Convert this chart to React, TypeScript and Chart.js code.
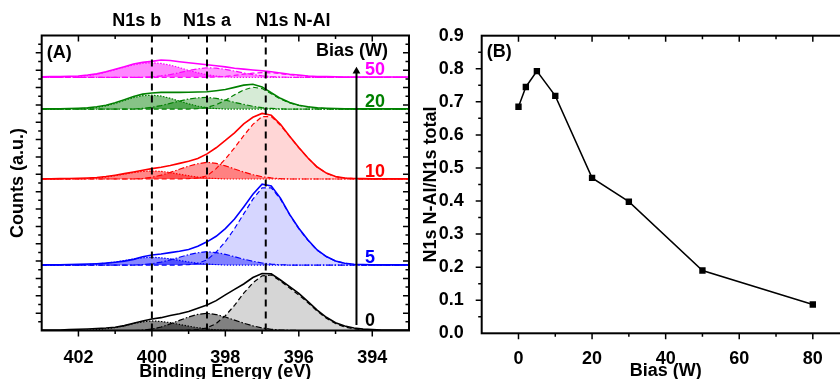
import React, { useEffect, useRef } from 'react';
import { Chart, registerables } from 'chart.js';

Chart.register(...registerables);

const FONT = '"Liberation Sans", Arial, Helvetica, sans-serif';

// ---------- Panel A data ----------
const energies = [403, 402.75, 402.5, 402.25, 402, 401.75, 401.5, 401.25, 401, 400.75, 400.5, 400.25, 400, 399.75, 399.5, 399.25, 399, 398.75, 398.5, 398.25, 398, 397.75, 397.5, 397.25, 397, 396.75, 396.5, 396.25, 396, 395.75, 395.5, 395.25, 395, 394.75, 394.5, 394.25, 394, 393.75, 393.5, 393.25, 393];

const biasLabels = ['0', '5', '10', '20', '50'];
const spectrumOffsets = [0, 3.77, 8.73, 12.76, 14.59];
const spectrumColors = ['0,0,0', '0,0,255', '255,0,0', '0,128,0', '255,0,255'];

// 0 W
const env0 = [0.02, 0.02, 0.03, 0.05, 0.07, 0.09, 0.11, 0.14, 0.19, 0.28, 0.42, 0.55, 0.66, 0.74, 0.86, 0.97, 1.10, 1.28, 1.47, 1.72, 2.05, 2.37, 2.68, 3.05, 3.28, 3.27, 2.91, 2.53, 2.14, 1.66, 1.18, 0.76, 0.45, 0.26, 0.14, 0.08, 0.05, 0.03, 0.02, 0.02, 0.02];
const nal0 = [0, 0, 0, 0, 0, 0, 0, 0, 0, 0, 0, 0, 0, 0, 0, 0, 0.02, 0.05, 0.15, 0.40, 0.85, 1.45, 2.15, 2.75, 3.15, 3.20, 2.85, 2.45, 2.05, 1.60, 1.12, 0.70, 0.40, 0.20, 0.10, 0.05, 0.02, 0, 0, 0, 0];
const a0 = [0, 0, 0, 0, 0, 0, 0, 0, 0, 0, 0, 0.02, 0.08, 0.20, 0.38, 0.58, 0.78, 0.93, 0.99, 0.92, 0.78, 0.60, 0.42, 0.27, 0.15, 0.07, 0.03, 0.01, 0, 0, 0, 0, 0, 0, 0, 0, 0, 0, 0, 0, 0];
const b0 = [0, 0, 0, 0, 0, 0.02, 0.05, 0.10, 0.17, 0.27, 0.40, 0.50, 0.55, 0.52, 0.45, 0.35, 0.25, 0.16, 0.09, 0.04, 0.02, 0, 0, 0, 0, 0, 0, 0, 0, 0, 0, 0, 0, 0, 0, 0, 0, 0, 0, 0, 0];

// 5 W
const env5 = [0.01, 0.01, 0.02, 0.03, 0.04, 0.06, 0.08, 0.11, 0.16, 0.23, 0.33, 0.48, 0.58, 0.64, 0.72, 0.80, 0.90, 1.08, 1.34, 1.66, 2.10, 2.65, 3.35, 4.08, 4.66, 4.56, 3.86, 2.92, 2.12, 1.44, 0.87, 0.49, 0.24, 0.11, 0.05, 0.03, 0.02, 0.01, 0.01, 0.01, 0.01];
const nal5 = [0, 0, 0, 0, 0, 0, 0, 0, 0, 0, 0, 0, 0, 0, 0, 0, 0.03, 0.10, 0.30, 0.75, 1.35, 2.10, 2.95, 3.80, 4.45, 4.45, 3.80, 2.90, 2.10, 1.42, 0.85, 0.48, 0.23, 0.10, 0.04, 0, 0, 0, 0, 0, 0];
const a5 = [0, 0, 0, 0, 0, 0, 0, 0, 0, 0, 0, 0.03, 0.08, 0.17, 0.30, 0.45, 0.60, 0.71, 0.77, 0.72, 0.62, 0.48, 0.34, 0.22, 0.12, 0.05, 0.02, 0, 0, 0, 0, 0, 0, 0, 0, 0, 0, 0, 0, 0, 0];
const b5 = [0, 0, 0, 0, 0, 0.03, 0.06, 0.11, 0.18, 0.26, 0.35, 0.42, 0.45, 0.42, 0.36, 0.27, 0.18, 0.11, 0.06, 0.03, 0, 0, 0, 0, 0, 0, 0, 0, 0, 0, 0, 0, 0, 0, 0, 0, 0, 0, 0, 0, 0];

// 10 W
const env10 = [0.01, 0.01, 0.02, 0.03, 0.04, 0.06, 0.09, 0.14, 0.22, 0.31, 0.40, 0.50, 0.60, 0.68, 0.78, 0.90, 1.02, 1.18, 1.45, 1.80, 2.22, 2.66, 3.18, 3.56, 3.78, 3.68, 3.15, 2.47, 1.82, 1.21, 0.69, 0.34, 0.14, 0.06, 0.03, 0.02, 0.01, 0.01, 0.01, 0.01, 0.01];
const nal10 = [0, 0, 0, 0, 0, 0, 0, 0, 0, 0, 0, 0, 0, 0, 0, 0, 0.02, 0.06, 0.18, 0.60, 1.15, 1.80, 2.50, 3.15, 3.60, 3.60, 3.10, 2.45, 1.80, 1.20, 0.68, 0.33, 0.13, 0.05, 0.02, 0, 0, 0, 0, 0, 0];
const a10 = [0, 0, 0, 0, 0, 0, 0, 0, 0, 0, 0, 0.03, 0.10, 0.22, 0.38, 0.56, 0.74, 0.88, 0.96, 0.90, 0.76, 0.58, 0.40, 0.25, 0.13, 0.06, 0.02, 0, 0, 0, 0, 0, 0, 0, 0, 0, 0, 0, 0, 0, 0];
const b10 = [0, 0, 0, 0, 0, 0.03, 0.06, 0.11, 0.19, 0.28, 0.37, 0.44, 0.46, 0.44, 0.37, 0.28, 0.19, 0.11, 0.06, 0.03, 0, 0, 0, 0, 0, 0, 0, 0, 0, 0, 0, 0, 0, 0, 0, 0, 0, 0, 0, 0, 0];

// 20 W
const env20 = [0.01, 0.01, 0.02, 0.03, 0.05, 0.08, 0.13, 0.22, 0.36, 0.54, 0.72, 0.86, 0.93, 0.96, 0.96, 0.96, 0.97, 0.98, 1.00, 1.06, 1.13, 1.25, 1.38, 1.43, 1.28, 0.94, 0.62, 0.38, 0.22, 0.13, 0.08, 0.05, 0.03, 0.02, 0.01, 0.01, 0.01, 0.01, 0.01, 0.01, 0.01];
const nal20 = [0, 0, 0, 0, 0, 0, 0, 0, 0, 0, 0, 0, 0, 0, 0, 0, 0, 0.03, 0.10, 0.25, 0.50, 0.82, 1.10, 1.26, 1.18, 0.88, 0.58, 0.36, 0.21, 0.12, 0.06, 0.03, 0.01, 0, 0, 0, 0, 0, 0, 0, 0];
const a20 = [0, 0, 0, 0, 0, 0, 0, 0, 0, 0, 0, 0.04, 0.10, 0.20, 0.33, 0.46, 0.58, 0.65, 0.67, 0.62, 0.52, 0.39, 0.27, 0.16, 0.08, 0.04, 0.01, 0, 0, 0, 0, 0, 0, 0, 0, 0, 0, 0, 0, 0, 0];
const b20 = [0, 0, 0, 0, 0.02, 0.04, 0.09, 0.18, 0.32, 0.50, 0.66, 0.77, 0.80, 0.75, 0.62, 0.46, 0.30, 0.17, 0.08, 0.03, 0, 0, 0, 0, 0, 0, 0, 0, 0, 0, 0, 0, 0, 0, 0, 0, 0, 0, 0, 0, 0];

// 50 W
const env50 = [0.03, 0.04, 0.05, 0.06, 0.08, 0.13, 0.20, 0.32, 0.46, 0.61, 0.77, 0.86, 0.92, 1.00, 0.97, 0.90, 0.84, 0.78, 0.72, 0.67, 0.60, 0.52, 0.47, 0.42, 0.38, 0.32, 0.25, 0.18, 0.13, 0.08, 0.05, 0.04, 0.03, 0.02, 0.02, 0.02, 0.02, 0.02, 0.02, 0.02, 0.02];
const nal50 = [0, 0, 0, 0, 0, 0, 0, 0, 0, 0, 0, 0, 0, 0, 0, 0, 0, 0, 0, 0.02, 0.05, 0.11, 0.18, 0.24, 0.27, 0.26, 0.21, 0.15, 0.09, 0.05, 0.02, 0, 0, 0, 0, 0, 0, 0, 0, 0, 0];
const a50 = [0, 0, 0, 0, 0, 0, 0, 0, 0, 0, 0, 0, 0.03, 0.08, 0.16, 0.27, 0.39, 0.49, 0.55, 0.53, 0.46, 0.36, 0.25, 0.16, 0.09, 0.04, 0.02, 0, 0, 0, 0, 0, 0, 0, 0, 0, 0, 0, 0, 0, 0];
const b50 = [0, 0, 0, 0.02, 0.05, 0.10, 0.18, 0.30, 0.44, 0.59, 0.72, 0.81, 0.84, 0.80, 0.70, 0.56, 0.40, 0.26, 0.15, 0.07, 0.03, 0, 0, 0, 0, 0, 0, 0, 0, 0, 0, 0, 0, 0, 0, 0, 0, 0, 0, 0, 0];

const envelopes = [env0, env5, env10, env20, env50];
const nalComponents = [nal0, nal5, nal10, nal20, nal50];
const aComponents = [a0, a5, a10, a20, a50];
const bComponents = [b0, b5, b10, b20, b50];

const peakCenters = [400.0, 398.5, 396.9];
const peakNames = ['N1s b', 'N1s a', 'N1s N-Al'];
const peakNameCenters = [400.41, 398.5, 396.16];
const xTicksA = [402, 400, 398, 396, 394];
const yRangeA = [0, 17];
const arrowX = 394.43;
const arrowY = [0.32, 14.94];
const biasLabelX = 394.2;

// ---------- Panel B data ----------
const biasW = [0, 2, 5, 10, 20, 30, 50, 80];
const ratioNAl = [0.685, 0.745, 0.793, 0.718, 0.47, 0.398, 0.19, 0.087];
const xTicksB = [0, 20, 40, 60, 80];
const yTicksB = [0, 0.1, 0.2, 0.3, 0.4, 0.5, 0.6, 0.7, 0.8, 0.9];

const W = 840;
const H = 379;

function font(size = 18) {
  return { family: FONT, size, weight: 'bold' as const, lineHeight: 1 };
}

function framePlugin(o: { xStep: number; xMajor: number; yStep: number; yMajor: number; right: boolean }) {
  return {
    id: 'frameTicks',
    afterDraw(chart: any) {
      const { ctx, chartArea: ca, scales } = chart;
      const xs = scales.x;
      const ys = scales.y;
      ctx.save();
      ctx.strokeStyle = '#000';
      ctx.lineWidth = 1.5;
      ctx.beginPath();
      const x0 = Math.min(xs.min, xs.max);
      const x1 = Math.max(xs.min, xs.max);
      const nx = Math.round((x1 - x0) / o.xStep);
      for (let i = 0; i <= nx; i++) {
        const v = Math.ceil(x0 / o.xStep) * o.xStep + i * o.xStep;
        if (v > x1 + 1e-9) break;
        const px = xs.getPixelForValue(v);
        if (px < ca.left + 1 || px > ca.right - 1) continue;
        const r = v / o.xMajor;
        const major = Math.abs(r - Math.round(r)) < 1e-6;
        const len = major ? 6 : 3.5;
        ctx.moveTo(px, ca.bottom);
        ctx.lineTo(px, ca.bottom + len);
        ctx.moveTo(px, ca.top);
        ctx.lineTo(px, ca.top + len);
      }
      const ny = Math.round((ys.max - ys.min) / o.yStep);
      for (let i = 0; i <= ny; i++) {
        const v = ys.min + i * o.yStep;
        const py = ys.getPixelForValue(v);
        if (py > ca.bottom - 1 || py < ca.top + 1) continue;
        const r = v / o.yMajor;
        const major = Math.abs(r - Math.round(r)) < 1e-6;
        const len = major ? 6 : 3.5;
        ctx.moveTo(ca.left, py);
        ctx.lineTo(ca.left - len, py);
        if (o.right) {
          ctx.moveTo(ca.right, py);
          ctx.lineTo(ca.right - len, py);
        }
      }
      ctx.stroke();
      ctx.lineWidth = 2;
      ctx.strokeRect(ca.left, ca.top, ca.right - ca.left, ca.bottom - ca.top);
      ctx.restore();
    },
  };
}

const labelsPluginA = {
  id: 'labelsA',
  afterDraw(chart: any) {
    const { ctx, chartArea: ca, scales } = chart;
    const xs = scales.x;
    const ys = scales.y;
    ctx.save();
    ctx.font = `bold 18px ${FONT}`;
    ctx.fillStyle = '#000';
    ctx.textBaseline = 'middle';
    ctx.textAlign = 'center';
    peakNames.forEach((n, i) => {
      ctx.fillText(n, xs.getPixelForValue(peakNameCenters[i]), ca.top - 14.5);
    });
    ctx.textAlign = 'left';
    ctx.fillText('(A)', ca.left + 5, ca.top + 18);
    ctx.textAlign = 'right';
    ctx.fillText('Bias (W)', ca.right - 21, ca.top + 15.5);
    ctx.textAlign = 'left';
    ctx.textBaseline = 'alphabetic';
    biasLabels.forEach((l, i) => {
      ctx.fillStyle = `rgb(${spectrumColors[i]})`;
      const lift = i === 0 ? 5 : 2;
      ctx.fillText(l, xs.getPixelForValue(biasLabelX), ys.getPixelForValue(spectrumOffsets[i]) - lift);
    });
    ctx.restore();
  },
};

const labelsPluginB = {
  id: 'labelsB',
  afterDraw(chart: any) {
    const { ctx, chartArea: ca } = chart;
    ctx.save();
    ctx.font = `bold 18px ${FONT}`;
    ctx.fillStyle = '#000';
    ctx.textBaseline = 'middle';
    ctx.textAlign = 'left';
    ctx.fillText('(B)', ca.left + 5, ca.top + 16.5);
    ctx.restore();
  },
};

function buildDatasetsA() {
  const ds: any[] = [];
  const pts = (h: number[], off: number) => energies.map((e, i) => ({ x: e, y: off + h[i] }));
  envelopes.forEach((env, s) => {
    const off = spectrumOffsets[s];
    const c = spectrumColors[s];
    ds.push({
      data: pts(nalComponents[s], off), borderColor: `rgb(${c})`, borderWidth: 1.2, borderDash: [5, 3],
      fill: { value: off }, backgroundColor: `rgba(${c},0.16)`, order: 5,
    });
    ds.push({
      data: pts(aComponents[s], off), borderColor: `rgb(${c})`, borderWidth: 1.2, borderDash: [6, 2, 1.5, 2],
      fill: { value: off }, backgroundColor: `rgba(${c},0.4)`, order: 4,
    });
    ds.push({
      data: pts(bComponents[s], off), borderColor: `rgb(${c})`, borderWidth: 1.2, borderDash: [1.5, 1.5],
      fill: { value: off }, backgroundColor: `rgba(${c},0.47)`, order: 3,
    });
    ds.push({
      data: pts(env, off), borderColor: `rgb(${c})`, borderWidth: 1.6, fill: false, order: 2,
    });
  });
  peakCenters.forEach((p) => {
    ds.push({
      data: [{ x: p, y: yRangeA[0] }, { x: p, y: yRangeA[1] }], borderColor: '#000', borderWidth: 2,
      borderDash: [7, 5], fill: false, order: 1,
    });
  });
  ds.push({
    data: [{ x: arrowX, y: arrowY[0] }, { x: arrowX, y: arrowY[1] }], borderColor: '#000', borderWidth: 2,
    fill: false, order: 0, pointRadius: [0, 4.5], pointStyle: 'triangle', pointBackgroundColor: '#000',
    pointBorderColor: '#000', pointBorderWidth: 0,
  });
  return ds.map((d) => ({
    showLine: true, pointRadius: 0, pointHoverRadius: 0, tension: 0, ...d,
  }));
}

function PanelA() {
  const ref = useRef<HTMLCanvasElement>(null);
  useEffect(() => {
    if (!ref.current) return;
    const chart = new Chart(ref.current, {
      type: 'scatter',
      data: { datasets: buildDatasetsA() },
      options: {
        animation: false,
        responsive: false,
        events: [],
        layout: { padding: { left: 0, top: 35.5, right: 11, bottom: 0 } },
        plugins: { legend: { display: false }, tooltip: { enabled: false } },
        scales: {
          x: {
            type: 'linear', reverse: true, min: 393, max: 403,
            grid: { display: false }, border: { display: false },
            afterBuildTicks: (s: any) => { s.ticks = xTicksA.map((v) => ({ value: v })); },
            afterFit: (s: any) => { s.height = H - 330.5; },
            ticks: { font: font(18), color: '#000', padding: 11, autoSkip: false, maxRotation: 0, callback: (v: any) => String(v) },
            title: { display: true, text: 'Binding Energy (eV)', font: font(18), color: '#000', padding: { top: 0, bottom: -2 } },
          },
          y: {
            type: 'linear', min: yRangeA[0], max: yRangeA[1],
            grid: { display: false }, border: { display: false },
            ticks: { display: false },
            afterFit: (s: any) => { s.width = 41.7; },
            title: { display: true, text: 'Counts (a.u.)', font: font(18), color: '#000', padding: { top: 9, bottom: 0 } },
          },
        },
      } as any,
      plugins: [framePlugin({ xStep: 1, xMajor: 2, yStep: 0.5, yMajor: 1, right: true }), labelsPluginA],
    });
    return () => chart.destroy();
  }, []);
  return <canvas ref={ref} width={420} height={H} style={{ position: 'absolute', left: 0, top: 0, width: 420, height: H }} />;
}

function PanelB() {
  const ref = useRef<HTMLCanvasElement>(null);
  useEffect(() => {
    if (!ref.current) return;
    const chart = new Chart(ref.current, {
      type: 'scatter',
      data: {
        datasets: [{
          data: biasW.map((b, i) => ({ x: b, y: ratioNAl[i] })),
          showLine: true, borderColor: '#000', borderWidth: 1.5, tension: 0,
          pointStyle: 'rect', pointRadius: 4.5, pointHoverRadius: 4.5,
          pointBackgroundColor: '#000', pointBorderColor: '#000', pointBorderWidth: 0,
        }],
      },
      options: {
        animation: false,
        responsive: false,
        events: [],
        layout: { padding: { left: 0, top: 35.7, right: 10.4, bottom: 0 } },
        plugins: { legend: { display: false }, tooltip: { enabled: false } },
        scales: {
          x: {
            type: 'linear', min: -10, max: 90,
            grid: { display: false }, border: { display: false },
            afterBuildTicks: (s: any) => { s.ticks = xTicksB.map((v) => ({ value: v })); },
            afterFit: (s: any) => { s.height = H - 333.3; },
            ticks: { font: font(18), color: '#000', padding: 9, autoSkip: false, maxRotation: 0, callback: (v: any) => String(v) },
            title: { display: true, text: 'Bias (W)', font: font(18), color: '#000', padding: { top: 0, bottom: -1 } },
          },
          y: {
            type: 'linear', min: 0, max: 0.9,
            grid: { display: false }, border: { display: false },
            afterBuildTicks: (s: any) => { s.ticks = yTicksB.map((v) => ({ value: v })); },
            afterFit: (s: any) => { s.width = 61.7; },
            ticks: { font: font(18), color: '#000', padding: 10, autoSkip: false, callback: (v: any) => Number(v).toFixed(1) },
            title: { display: true, text: 'N1s N-Al/N1s total', font: font(18), color: '#000', padding: { top: 2, bottom: 0 } },
          },
        },
      } as any,
      plugins: [framePlugin({ xStep: 10, xMajor: 20, yStep: 0.05, yMajor: 0.1, right: false }), labelsPluginB],
    });
    return () => chart.destroy();
  }, []);
  return <canvas ref={ref} width={440} height={H} style={{ position: 'absolute', left: 420, top: 0, width: 440, height: H }} />;
}

export default function App() {
  return (
    <div style={{ position: 'fixed', left: 0, top: 0, width: W, height: H, overflow: 'hidden', background: '#fff' }}>
      <PanelA />
      <PanelB />
    </div>
  );
}
